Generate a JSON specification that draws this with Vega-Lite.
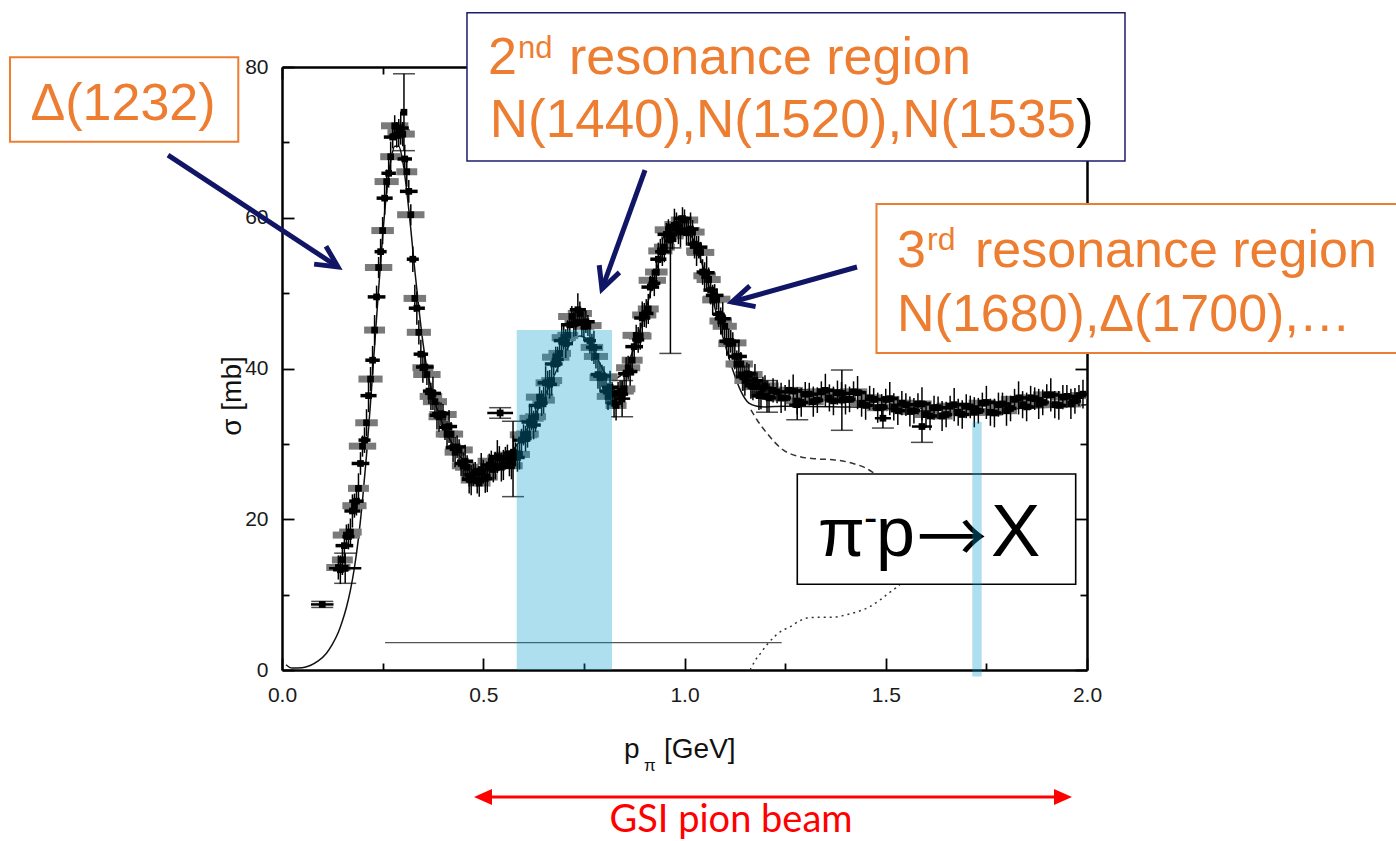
{
"$schema": "https://vega.github.io/schema/vega-lite/v6.json",
"width": 805, "height": 603,
"autosize": {"type": "none"},
"padding": {"left": 282, "top": 67, "right": 309, "bottom": 171},
"background": "white",
"config": {
 "view": {"stroke": null},
 "axis": {"domainColor": "#000", "domainWidth": 2.5, "tickColor": "#000", "tickWidth": 1.8, "labelFont": "Liberation Sans", "labelFontSize": 21, "labelColor": "#1a1a1a", "grid": false, "labelFlush": false, "labelOverlap": false}
},
"resolve": {"axis": {"x": "independent", "y": "independent"}},
"datasets": {
 "one": [{}],
 "setA": [
  {"x":0.14,"y":13.6,"e":0.030,"v":1.6},{"x":0.15,"y":14.6,"e":0.026,"v":2.0},{"x":0.16,"y":17.9,"e":0.034,"v":1.4},{"x":0.17,"y":18.3,"e":0.028,"v":1.8},
  {"x":0.18,"y":21.8,"e":0.030,"v":1.6},{"x":0.19,"y":24.1,"e":0.026,"v":2.0},{"x":0.20,"y":29.7,"e":0.034,"v":1.4},{"x":0.21,"y":32.8,"e":0.028,"v":1.8},
  {"x":0.22,"y":38.6,"e":0.030,"v":1.6},{"x":0.23,"y":45.1,"e":0.026,"v":2.0},{"x":0.24,"y":53.4,"e":0.034,"v":1.4},{"x":0.25,"y":58.3,"e":0.028,"v":1.8},
  {"x":0.26,"y":64.8,"e":0.030,"v":1.6},{"x":0.27,"y":68.1,"e":0.026,"v":2.0},{"x":0.28,"y":72.2,"e":0.034,"v":1.4},{"x":0.29,"y":71.3,"e":0.028,"v":1.8},
  {"x":0.30,"y":71.1,"e":0.030,"v":1.6},{"x":0.31,"y":66.1,"e":0.026,"v":2.0},{"x":0.32,"y":60.4,"e":0.034,"v":1.4},{"x":0.33,"y":49.3,"e":0.028,"v":1.8},
  {"x":0.34,"y":44.8,"e":0.030,"v":1.6},{"x":0.35,"y":40.1,"e":0.026,"v":2.0},{"x":0.36,"y":39.2,"e":0.034,"v":1.4},{"x":0.37,"y":36.3,"e":0.028,"v":1.8},
  {"x":0.38,"y":35.6,"e":0.030,"v":1.6},{"x":0.39,"y":33.6,"e":0.026,"v":2.0},{"x":0.40,"y":33.9,"e":0.034,"v":1.4},{"x":0.41,"y":31.3,"e":0.028,"v":1.8},
  {"x":0.42,"y":31.3,"e":0.030,"v":1.6},{"x":0.43,"y":28.9,"e":0.026,"v":2.0},{"x":0.44,"y":29.2,"e":0.034,"v":1.4},{"x":0.45,"y":27.1,"e":0.028,"v":1.8},
  {"x":0.46,"y":26.9,"e":0.030,"v":1.6},{"x":0.47,"y":25.2,"e":0.026,"v":2.0},{"x":0.48,"y":26.2,"e":0.034,"v":1.4},{"x":0.49,"y":24.8,"e":0.028,"v":1.8},
  {"x":0.50,"y":26.3,"e":0.030,"v":1.6},{"x":0.51,"y":25.6,"e":0.026,"v":2.0},{"x":0.52,"y":27.7,"e":0.034,"v":1.4},{"x":0.53,"y":27.1,"e":0.028,"v":1.8},
  {"x":0.54,"y":28.1,"e":0.030,"v":1.6},{"x":0.55,"y":27.2,"e":0.026,"v":2.0},{"x":0.56,"y":28.5,"e":0.034,"v":1.4},{"x":0.57,"y":27.1,"e":0.028,"v":1.8},
  {"x":0.58,"y":28.6,"e":0.030,"v":1.6},{"x":0.59,"y":28.6,"e":0.026,"v":2.0},{"x":0.60,"y":31.2,"e":0.034,"v":1.4},{"x":0.61,"y":31.3,"e":0.028,"v":1.8},
  {"x":0.62,"y":33.4,"e":0.030,"v":1.6},{"x":0.63,"y":33.6,"e":0.026,"v":2.0},{"x":0.64,"y":36.2,"e":0.034,"v":1.4},{"x":0.65,"y":35.8,"e":0.028,"v":1.8},
  {"x":0.66,"y":38.1,"e":0.030,"v":1.6},{"x":0.67,"y":38.4,"e":0.026,"v":2.0},{"x":0.68,"y":41.5,"e":0.034,"v":1.4},{"x":0.69,"y":42.0,"e":0.028,"v":1.8},
  {"x":0.70,"y":44.1,"e":0.030,"v":1.6},{"x":0.71,"y":44.4,"e":0.026,"v":2.0},{"x":0.72,"y":46.9,"e":0.034,"v":1.4},{"x":0.73,"y":46.1,"e":0.028,"v":1.8},
  {"x":0.74,"y":47.3,"e":0.030,"v":1.6},{"x":0.75,"y":45.6,"e":0.026,"v":2.0},{"x":0.76,"y":45.7,"e":0.034,"v":1.4},{"x":0.77,"y":42.8,"e":0.028,"v":1.8},
  {"x":0.78,"y":41.6,"e":0.030,"v":1.6},{"x":0.79,"y":38.8,"e":0.026,"v":2.0},{"x":0.80,"y":38.9,"e":0.034,"v":1.4},{"x":0.81,"y":36.3,"e":0.028,"v":1.8},
  {"x":0.82,"y":36.6,"e":0.030,"v":1.6},{"x":0.83,"y":35.1,"e":0.026,"v":2.0},{"x":0.84,"y":37.0,"e":0.034,"v":1.4},{"x":0.85,"y":37.3,"e":0.028,"v":1.8},
  {"x":0.86,"y":40.1,"e":0.030,"v":1.6},{"x":0.87,"y":41.1,"e":0.026,"v":2.0},{"x":0.88,"y":44.4,"e":0.034,"v":1.4},{"x":0.89,"y":44.3,"e":0.028,"v":1.8},
  {"x":0.90,"y":47.1,"e":0.030,"v":1.6},{"x":0.91,"y":47.9,"e":0.026,"v":2.0},{"x":0.92,"y":51.7,"e":0.034,"v":1.4},{"x":0.93,"y":52.8,"e":0.028,"v":1.8},
  {"x":0.94,"y":55.6,"e":0.030,"v":1.6},{"x":0.95,"y":56.1,"e":0.026,"v":2.0},{"x":0.96,"y":58.4,"e":0.034,"v":1.4},{"x":0.97,"y":57.6,"e":0.028,"v":1.8},
  {"x":0.98,"y":59.1,"e":0.030,"v":1.6},{"x":0.99,"y":58.1,"e":0.026,"v":2.0},{"x":1.00,"y":59.7,"e":0.034,"v":1.4},{"x":1.01,"y":58.3,"e":0.028,"v":1.8},
  {"x":1.02,"y":58.1,"e":0.030,"v":1.6},{"x":1.03,"y":55.6,"e":0.026,"v":2.0},{"x":1.04,"y":55.4,"e":0.034,"v":1.4},{"x":1.05,"y":52.3,"e":0.028,"v":1.8},
  {"x":1.06,"y":51.8,"e":0.030,"v":1.6},{"x":1.07,"y":49.1,"e":0.026,"v":2.0},{"x":1.08,"y":49.2,"e":0.034,"v":1.4},{"x":1.09,"y":46.3,"e":0.028,"v":1.8},
  {"x":1.10,"y":45.6,"e":0.030,"v":1.6},{"x":1.11,"y":43.3,"e":0.026,"v":2.0},{"x":1.12,"y":43.4,"e":0.034,"v":1.4},{"x":1.13,"y":40.6,"e":0.028,"v":1.8},
  {"x":1.14,"y":40.6,"e":0.030,"v":1.6},{"x":1.15,"y":38.4,"e":0.026,"v":2.0},{"x":1.16,"y":39.2,"e":0.034,"v":1.4},{"x":1.17,"y":37.6,"e":0.028,"v":1.8},
  {"x":1.18,"y":37.9,"e":0.030,"v":1.6},{"x":1.19,"y":36.6,"e":0.026,"v":2.0},{"x":1.20,"y":37.7,"e":0.034,"v":1.4},
  {"x":1.22,"y":37.1,"e":0.030,"v":1.6},{"x":1.24,"y":36.1,"e":0.026,"v":2.0},{"x":1.26,"y":37.1,"e":0.034,"v":1.4},{"x":1.28,"y":35.7,"e":0.028,"v":1.8},
  {"x":1.30,"y":36.6,"e":0.030,"v":1.6},{"x":1.32,"y":35.6,"e":0.026,"v":2.0},{"x":1.34,"y":36.9,"e":0.034,"v":1.4},{"x":1.36,"y":36.1,"e":0.028,"v":1.8},
  {"x":1.38,"y":36.8,"e":0.030,"v":1.6},{"x":1.40,"y":35.9,"e":0.026,"v":2.0},{"x":1.42,"y":36.9,"e":0.034,"v":1.4},{"x":1.44,"y":35.4,"e":0.028,"v":1.8},
  {"x":1.46,"y":36.1,"e":0.030,"v":1.6},{"x":1.48,"y":34.8,"e":0.026,"v":2.0},{"x":1.50,"y":35.9,"e":0.034,"v":1.4},{"x":1.52,"y":34.9,"e":0.028,"v":1.8},
  {"x":1.54,"y":35.4,"e":0.030,"v":1.6},{"x":1.56,"y":34.3,"e":0.026,"v":2.0},{"x":1.58,"y":35.3,"e":0.034,"v":1.4},{"x":1.60,"y":33.9,"e":0.028,"v":1.8},
  {"x":1.62,"y":34.8,"e":0.030,"v":1.6},{"x":1.64,"y":33.7,"e":0.026,"v":2.0},{"x":1.66,"y":35.0,"e":0.034,"v":1.4},{"x":1.68,"y":34.2,"e":0.028,"v":1.8},
  {"x":1.70,"y":35.0,"e":0.030,"v":1.6},{"x":1.72,"y":34.2,"e":0.026,"v":2.0},{"x":1.74,"y":35.4,"e":0.034,"v":1.4},{"x":1.76,"y":34.2,"e":0.028,"v":1.8},
  {"x":1.78,"y":35.2,"e":0.030,"v":1.6},{"x":1.80,"y":34.4,"e":0.026,"v":2.0},{"x":1.82,"y":35.9,"e":0.034,"v":1.4},{"x":1.84,"y":35.2,"e":0.028,"v":1.8},
  {"x":1.86,"y":36.1,"e":0.030,"v":1.6},{"x":1.88,"y":35.3,"e":0.026,"v":2.0},{"x":1.90,"y":36.5,"e":0.034,"v":1.4},{"x":1.92,"y":35.2,"e":0.028,"v":1.8},
  {"x":1.94,"y":36.2,"e":0.030,"v":1.6},{"x":1.96,"y":35.3,"e":0.026,"v":2.0},{"x":1.98,"y":36.4,"e":0.020,"v":1.4}
 ],
 "setB": [
  {"x":0.145,"y":13.3,"e":0.018,"v":1.9},{"x":0.155,"y":16.5,"e":0.022,"v":1.5},{"x":0.165,"y":17.7,"e":0.015,"v":1.7},{"x":0.175,"y":21.1,"e":0.020,"v":2.2},
  {"x":0.185,"y":22.4,"e":0.018,"v":1.9},{"x":0.195,"y":27.4,"e":0.022,"v":1.5},{"x":0.205,"y":30.5,"e":0.015,"v":1.7},{"x":0.215,"y":36.4,"e":0.020,"v":2.2},
  {"x":0.225,"y":41.1,"e":0.018,"v":1.9},{"x":0.235,"y":49.5,"e":0.022,"v":1.5},{"x":0.245,"y":55.5,"e":0.015,"v":1.7},{"x":0.255,"y":62.6,"e":0.020,"v":2.2},
  {"x":0.265,"y":65.9,"e":0.018,"v":1.9},{"x":0.275,"y":70.7,"e":0.022,"v":1.5},{"x":0.285,"y":71.0,"e":0.015,"v":1.7},{"x":0.295,"y":71.9,"e":0.020,"v":2.2},
  {"x":0.305,"y":67.8,"e":0.018,"v":1.9},{"x":0.315,"y":63.5,"e":0.022,"v":1.5},{"x":0.325,"y":54.5,"e":0.015,"v":1.7},{"x":0.335,"y":48.0,"e":0.020,"v":2.2},
  {"x":0.345,"y":41.9,"e":0.018,"v":1.9},{"x":0.355,"y":40.2,"e":0.022,"v":1.5},{"x":0.365,"y":37.0,"e":0.015,"v":1.7},{"x":0.375,"y":36.7,"e":0.020,"v":2.2},
  {"x":0.385,"y":33.8,"e":0.018,"v":1.9},{"x":0.395,"y":34.0,"e":0.022,"v":1.5},{"x":0.405,"y":32.2,"e":0.015,"v":1.7},{"x":0.415,"y":32.3,"e":0.020,"v":2.2},
  {"x":0.425,"y":29.5,"e":0.018,"v":1.9},{"x":0.435,"y":29.6,"e":0.022,"v":1.5},{"x":0.445,"y":27.4,"e":0.015,"v":1.7},{"x":0.455,"y":27.7,"e":0.020,"v":2.2},
  {"x":0.465,"y":25.3,"e":0.018,"v":1.9},{"x":0.475,"y":25.9,"e":0.022,"v":1.5},{"x":0.485,"y":25.1,"e":0.015,"v":1.7},{"x":0.495,"y":26.6,"e":0.020,"v":2.2},
  {"x":0.505,"y":25.4,"e":0.018,"v":1.9},{"x":0.515,"y":27.2,"e":0.022,"v":1.5},{"x":0.525,"y":26.6,"e":0.015,"v":1.7},{"x":0.535,"y":28.3,"e":0.020,"v":2.2},
  {"x":0.545,"y":26.9,"e":0.018,"v":1.9},{"x":0.555,"y":28.1,"e":0.022,"v":1.5},{"x":0.565,"y":27.4,"e":0.015,"v":1.7},{"x":0.575,"y":28.9,"e":0.020,"v":2.2},
  {"x":0.585,"y":28.2,"e":0.018,"v":1.9},{"x":0.595,"y":30.5,"e":0.022,"v":1.5},{"x":0.605,"y":30.7,"e":0.015,"v":1.7},{"x":0.615,"y":32.9,"e":0.020,"v":2.2},
  {"x":0.625,"y":32.5,"e":0.018,"v":1.9},{"x":0.635,"y":35.1,"e":0.022,"v":1.5},{"x":0.645,"y":35.4,"e":0.015,"v":1.7},{"x":0.655,"y":38.1,"e":0.020,"v":2.2},
  {"x":0.665,"y":37.9,"e":0.018,"v":1.9},{"x":0.675,"y":40.6,"e":0.022,"v":1.5},{"x":0.685,"y":41.2,"e":0.015,"v":1.7},{"x":0.695,"y":43.7,"e":0.020,"v":2.2},
  {"x":0.705,"y":43.3,"e":0.018,"v":1.9},{"x":0.715,"y":45.8,"e":0.022,"v":1.5},{"x":0.725,"y":45.9,"e":0.015,"v":1.7},{"x":0.735,"y":47.8,"e":0.020,"v":2.2},
  {"x":0.745,"y":46.1,"e":0.018,"v":1.9},{"x":0.755,"y":46.2,"e":0.022,"v":1.5},{"x":0.765,"y":43.7,"e":0.015,"v":1.7},{"x":0.775,"y":42.8,"e":0.020,"v":2.2},
  {"x":0.785,"y":39.2,"e":0.018,"v":1.9},{"x":0.795,"y":39.0,"e":0.022,"v":1.5},{"x":0.805,"y":37.0,"e":0.015,"v":1.7},{"x":0.815,"y":37.5,"e":0.020,"v":2.2},
  {"x":0.825,"y":35.4,"e":0.018,"v":1.9},{"x":0.835,"y":36.7,"e":0.022,"v":1.5},{"x":0.845,"y":36.6,"e":0.015,"v":1.7},{"x":0.855,"y":39.3,"e":0.020,"v":2.2},
  {"x":0.865,"y":39.6,"e":0.018,"v":1.9},{"x":0.875,"y":42.9,"e":0.022,"v":1.5},{"x":0.885,"y":43.8,"e":0.015,"v":1.7},{"x":0.895,"y":46.7,"e":0.020,"v":2.2},
  {"x":0.905,"y":47.3,"e":0.018,"v":1.9},{"x":0.915,"y":50.8,"e":0.022,"v":1.5},{"x":0.925,"y":51.3,"e":0.015,"v":1.7},{"x":0.935,"y":54.5,"e":0.020,"v":2.2},
  {"x":0.945,"y":55.5,"e":0.018,"v":1.9},{"x":0.955,"y":57.8,"e":0.022,"v":1.5},{"x":0.965,"y":57.0,"e":0.015,"v":1.7},{"x":0.975,"y":59.0,"e":0.020,"v":2.2},
  {"x":0.985,"y":58.4,"e":0.018,"v":1.9},{"x":0.995,"y":59.9,"e":0.022,"v":1.5},{"x":1.005,"y":58.0,"e":0.015,"v":1.7},{"x":1.015,"y":58.5,"e":0.020,"v":2.2},
  {"x":1.025,"y":56.5,"e":0.018,"v":1.9},{"x":1.035,"y":56.1,"e":0.022,"v":1.5},{"x":1.045,"y":52.8,"e":0.015,"v":1.7},{"x":1.055,"y":52.7,"e":0.020,"v":2.2},
  {"x":1.065,"y":50.4,"e":0.018,"v":1.9},{"x":1.075,"y":49.7,"e":0.022,"v":1.5},{"x":1.085,"y":47.2,"e":0.015,"v":1.7},{"x":1.095,"y":46.6,"e":0.020,"v":2.2},
  {"x":1.105,"y":43.6,"e":0.018,"v":1.9},{"x":1.115,"y":43.6,"e":0.022,"v":1.5},{"x":1.125,"y":41.6,"e":0.015,"v":1.7},{"x":1.135,"y":41.6,"e":0.020,"v":2.2},
  {"x":1.145,"y":38.9,"e":0.018,"v":1.9},{"x":1.155,"y":39.3,"e":0.022,"v":1.5},{"x":1.165,"y":37.7,"e":0.015,"v":1.7},{"x":1.175,"y":38.4,"e":0.020,"v":2.2},
  {"x":1.185,"y":36.4,"e":0.018,"v":1.9},{"x":1.195,"y":37.4,"e":0.022,"v":1.5},
  {"x":1.21,"y":36.1,"e":0.018,"v":1.9},{"x":1.23,"y":36.9,"e":0.022,"v":1.5},{"x":1.25,"y":36.1,"e":0.015,"v":1.7},{"x":1.27,"y":37.0,"e":0.020,"v":2.2},
  {"x":1.29,"y":35.5,"e":0.018,"v":1.9},{"x":1.31,"y":36.6,"e":0.022,"v":1.5},{"x":1.33,"y":35.8,"e":0.015,"v":1.7},{"x":1.35,"y":37.1,"e":0.020,"v":2.2},
  {"x":1.37,"y":35.7,"e":0.018,"v":1.9},{"x":1.39,"y":36.7,"e":0.022,"v":1.5},{"x":1.41,"y":35.9,"e":0.015,"v":1.7},{"x":1.43,"y":36.8,"e":0.020,"v":2.2},
  {"x":1.45,"y":35.1,"e":0.018,"v":1.9},{"x":1.47,"y":35.9,"e":0.022,"v":1.5},{"x":1.49,"y":34.9,"e":0.015,"v":1.7},{"x":1.51,"y":36.0,"e":0.020,"v":2.2},
  {"x":1.53,"y":34.4,"e":0.018,"v":1.9},{"x":1.55,"y":35.2,"e":0.022,"v":1.5},{"x":1.57,"y":34.4,"e":0.015,"v":1.7},{"x":1.59,"y":35.3,"e":0.020,"v":2.2},
  {"x":1.61,"y":33.7,"e":0.018,"v":1.9},{"x":1.63,"y":34.8,"e":0.022,"v":1.5},{"x":1.65,"y":33.9,"e":0.015,"v":1.7},{"x":1.67,"y":35.2,"e":0.020,"v":2.2},
  {"x":1.69,"y":33.9,"e":0.018,"v":1.9},{"x":1.71,"y":34.9,"e":0.022,"v":1.5},{"x":1.73,"y":34.4,"e":0.015,"v":1.7},{"x":1.75,"y":35.5,"e":0.020,"v":2.2},
  {"x":1.77,"y":34.1,"e":0.018,"v":1.9},{"x":1.79,"y":35.3,"e":0.022,"v":1.5},{"x":1.81,"y":34.7,"e":0.015,"v":1.7},{"x":1.83,"y":36.1,"e":0.020,"v":2.2},
  {"x":1.85,"y":34.9,"e":0.018,"v":1.9},{"x":1.87,"y":36.0,"e":0.022,"v":1.5},{"x":1.89,"y":35.5,"e":0.015,"v":1.7},{"x":1.91,"y":36.5,"e":0.020,"v":2.2},
  {"x":1.93,"y":35.1,"e":0.018,"v":1.9},{"x":1.95,"y":36.3,"e":0.022,"v":1.5},{"x":1.97,"y":35.7,"e":0.015,"v":1.7},{"x":1.99,"y":36.6,"e":0.010,"v":1.9}
 ],
 "setC": [
  {"x":0.100,"y":8.7,"e":0.028,"v":0.4},{"x":0.157,"y":13.5,"e":0.040,"v":2.0},{"x":0.303,"y":74.0,"e":0.0,"v":5.1},
  {"x":0.542,"y":34.1,"e":0.032,"v":0.7},{"x":0.574,"y":28.0,"e":0.0,"v":5.0},{"x":0.845,"y":36.0,"e":0.020,"v":2.4},
  {"x":0.965,"y":49.0,"e":0.0,"v":7.0},{"x":1.205,"y":36.3,"e":0.020,"v":2.1},{"x":1.280,"y":35.2,"e":0.020,"v":2.0},
  {"x":1.391,"y":35.8,"e":0.030,"v":4.0},{"x":1.493,"y":33.4,"e":0.020,"v":1.3},{"x":1.590,"y":32.3,"e":0.025,"v":2.1}
 ],
 "solid": [
  {"x":0.01,"y":0.7},{"x":0.025,"y":0.25},{"x":0.05,"y":0.3},{"x":0.07,"y":0.6},{"x":0.09,"y":1.2},{"x":0.11,"y":2.2},{"x":0.125,"y":3.4},
  {"x":0.14,"y":5.0},{"x":0.15,"y":6.5},{"x":0.16,"y":8.3},{"x":0.17,"y":10.6},{"x":0.18,"y":13.6},{"x":0.19,"y":17.5},{"x":0.20,"y":22.5},
  {"x":0.21,"y":28.5},{"x":0.22,"y":35.5},{"x":0.23,"y":43.0},{"x":0.24,"y":50.5},{"x":0.25,"y":57.5},{"x":0.26,"y":63.5},{"x":0.27,"y":67.5},
  {"x":0.28,"y":69.5},{"x":0.29,"y":69.5},{"x":0.30,"y":67.5},{"x":0.31,"y":63.5},{"x":0.32,"y":58.5},{"x":0.33,"y":53.0},{"x":0.34,"y":48.0},
  {"x":0.35,"y":43.5},{"x":0.36,"y":40.0},{"x":0.38,"y":35.5},{"x":0.40,"y":32.5},{"x":0.42,"y":30.3},{"x":0.44,"y":28.5},{"x":0.46,"y":27.2},
  {"x":0.48,"y":26.5},{"x":0.50,"y":26.3},{"x":0.52,"y":26.6},{"x":0.54,"y":27.3},{"x":0.56,"y":28.3},{"x":0.58,"y":29.6},{"x":0.60,"y":31.2},
  {"x":0.62,"y":33.0},{"x":0.64,"y":35.0},{"x":0.66,"y":37.2},{"x":0.68,"y":39.5},{"x":0.70,"y":41.8},{"x":0.72,"y":43.5},{"x":0.74,"y":44.3},
  {"x":0.76,"y":43.8},{"x":0.78,"y":41.8},{"x":0.80,"y":39.6},{"x":0.82,"y":38.6},{"x":0.84,"y":39.0},{"x":0.86,"y":40.8},{"x":0.88,"y":43.5},
  {"x":0.90,"y":47.0},{"x":0.92,"y":51.0},{"x":0.94,"y":54.8},{"x":0.96,"y":57.8},{"x":0.98,"y":59.2},{"x":1.00,"y":59.0},{"x":1.02,"y":57.3},
  {"x":1.04,"y":54.5},{"x":1.06,"y":51.0},{"x":1.08,"y":47.2},{"x":1.10,"y":43.3},{"x":1.12,"y":39.8},{"x":1.14,"y":37.0},{"x":1.16,"y":35.4},
  {"x":1.18,"y":35.0},{"x":1.20,"y":34.9},{"x":1.25,"y":35.0},{"x":1.50,"y":34.8},{"x":1.75,"y":34.6},{"x":2.00,"y":35.2}
 ],
 "dashed": [
  {"x":1.165,"y":34.5},{"x":1.18,"y":33.2},{"x":1.205,"y":31.4},{"x":1.245,"y":29.2},{"x":1.287,"y":28.3},{"x":1.33,"y":28.0},
  {"x":1.369,"y":27.9},{"x":1.419,"y":27.4},{"x":1.45,"y":26.8},{"x":1.466,"y":26.3},{"x":1.50,"y":25.0},{"x":1.55,"y":23.0}
 ],
 "dotted": [
  {"x":1.163,"y":0.0},{"x":1.175,"y":1.2},{"x":1.19,"y":2.3},{"x":1.204,"y":3.3},{"x":1.225,"y":4.5},{"x":1.245,"y":5.3},{"x":1.262,"y":5.7},
  {"x":1.285,"y":6.5},{"x":1.304,"y":6.9},{"x":1.34,"y":7.0},{"x":1.369,"y":7.0},{"x":1.40,"y":7.3},{"x":1.428,"y":7.7},{"x":1.46,"y":8.4},
  {"x":1.486,"y":9.3},{"x":1.51,"y":10.3},{"x":1.528,"y":11.0},{"x":1.55,"y":12.2}
 ]
},
"layer": [
 {
  "data": {"values": [{"x": 0.256, "x2": 1.2415, "y": 3.62}]},
  "mark": {"type": "rule", "color": "#555", "strokeWidth": 1.2},
  "encoding": {
   "x": {"field": "x", "type": "quantitative", "scale": {"domain": [0, 2], "nice": false, "zero": false},
         "axis": {"orient": "bottom", "values": [0, 0.5, 1, 1.5, 2], "format": ".1f", "tickSize": -12, "labelPadding": 26, "title": null}},
   "x2": {"field": "x2"},
   "y": {"field": "y", "type": "quantitative", "scale": {"domain": [0, 80], "nice": false, "zero": false},
         "axis": {"orient": "left", "values": [0, 20, 40, 60, 80], "tickSize": -12, "labelPadding": 26, "title": null}}
  }
 },
 {
  "data": {"name": "solid"},
  "mark": {"type": "line", "color": "#111", "strokeWidth": 1.5, "interpolate": "monotone"},
  "encoding": {
   "x": {"field": "x", "type": "quantitative", "axis": {"orient": "top", "values": [0, 0.5, 1, 1.5, 2], "labels": false, "tickSize": -12, "title": null}},
   "y": {"field": "y", "type": "quantitative", "axis": {"orient": "right", "values": [0, 20, 40, 60, 80], "labels": false, "tickSize": -12, "title": null}}
  }
 },
 {
  "data": {"name": "dashed"},
  "mark": {"type": "line", "color": "#333", "strokeWidth": 1.5, "strokeDash": [6, 4], "interpolate": "monotone"},
  "encoding": {
   "x": {"field": "x", "type": "quantitative", "axis": {"orient": "bottom", "values": [0.25, 0.75, 1.25, 1.75], "labels": false, "domain": false, "tickSize": -7, "title": null}},
   "y": {"field": "y", "type": "quantitative", "axis": {"orient": "left", "values": [10, 30, 50, 70], "labels": false, "domain": false, "tickSize": -7, "title": null}}
  }
 },
 {
  "data": {"name": "dotted"},
  "mark": {"type": "line", "color": "#333", "strokeWidth": 1.5, "strokeDash": [2, 4], "interpolate": "monotone"},
  "encoding": {
   "x": {"field": "x", "type": "quantitative", "axis": {"orient": "top", "values": [0.25, 0.75, 1.25, 1.75], "labels": false, "domain": false, "tickSize": -7, "title": null}},
   "y": {"field": "y", "type": "quantitative", "axis": {"orient": "right", "values": [10, 30, 50, 70], "labels": false, "domain": false, "tickSize": -7, "title": null}}
  }
 },
 {
  "data": {"name": "setA"},
  "mark": {"type": "errorbar", "color": "#7a7a7a", "thickness": 7},
  "encoding": {"x": {"field": "x", "type": "quantitative", "axis": null}, "xError": {"field": "e"}, "y": {"field": "y", "type": "quantitative", "axis": null}}
 },
 {
  "data": {"name": "setB"},
  "mark": {"type": "errorbar", "color": "#000", "thickness": 3.5},
  "encoding": {"x": {"field": "x", "type": "quantitative", "axis": null}, "xError": {"field": "e"}, "y": {"field": "y", "type": "quantitative", "axis": null}}
 },
 {
  "data": {"name": "setA"},
  "mark": {"type": "errorbar", "color": "#000", "thickness": 1.5},
  "encoding": {"x": {"field": "x", "type": "quantitative", "axis": null}, "y": {"field": "y", "type": "quantitative", "axis": null}, "yError": {"field": "v"}}
 },
 {
  "data": {"name": "setB"},
  "mark": {"type": "errorbar", "color": "#000", "thickness": 1.5},
  "encoding": {"x": {"field": "x", "type": "quantitative", "axis": null}, "y": {"field": "y", "type": "quantitative", "axis": null}, "yError": {"field": "v"}}
 },
 {
  "data": {"name": "setC"},
  "mark": {"type": "errorbar", "color": "#000", "thickness": 2.5},
  "encoding": {"x": {"field": "x", "type": "quantitative", "axis": null}, "xError": {"field": "e"}, "y": {"field": "y", "type": "quantitative", "axis": null}}
 },
 {
  "data": {"name": "setC"},
  "mark": {"type": "errorbar", "color": "#000", "thickness": 1.5, "ticks": {"size": 22, "thickness": 1.5}},
  "encoding": {"x": {"field": "x", "type": "quantitative", "axis": null}, "y": {"field": "y", "type": "quantitative", "axis": null}, "yError": {"field": "v"}}
 },
 {
  "data": {"name": "setA"},
  "mark": {"type": "point", "shape": "square", "filled": true, "color": "#000", "size": 45, "opacity": 1},
  "encoding": {"x": {"field": "x", "type": "quantitative", "axis": null}, "y": {"field": "y", "type": "quantitative", "axis": null}}
 },
 {
  "data": {"name": "setB"},
  "mark": {"type": "point", "shape": "square", "filled": true, "color": "#000", "size": 45, "opacity": 1},
  "encoding": {"x": {"field": "x", "type": "quantitative", "axis": null}, "y": {"field": "y", "type": "quantitative", "axis": null}}
 },
 {
  "data": {"name": "setC"},
  "transform": [{"filter": "datum.v < 6.5"}],
  "mark": {"type": "point", "shape": "square", "filled": true, "color": "#000", "size": 45, "opacity": 1},
  "encoding": {"x": {"field": "x", "type": "quantitative", "axis": null}, "y": {"field": "y", "type": "quantitative", "axis": null}}
 },
 {
  "data": {"name": "one"},
  "mark": {"type": "rect", "color": "#009CCC", "opacity": 0.32},
  "encoding": {"x": {"datum": 0.5831, "axis": null}, "x2": {"datum": 0.8199}, "y": {"datum": 0, "axis": null}, "y2": {"datum": 45.1}}
 },
 {
  "data": {"name": "one"},
  "mark": {"type": "rect", "fill": "white", "stroke": "#ED7D31", "strokeWidth": 2},
  "encoding": {"x": {"datum": -0.6758, "axis": null}, "x2": {"datum": -0.1086}, "y": {"datum": 81.29, "axis": null}, "y2": {"datum": 70.09}}
 },
 {
  "data": {"name": "one"},
  "mark": {"type": "rect", "fill": "white", "stroke": "#1c1c6c", "strokeWidth": 1.5},
  "encoding": {"x": {"datum": 0.4596, "axis": null}, "x2": {"datum": 2.0944}, "y": {"datum": 87.2, "axis": null}, "y2": {"datum": 67.53}}
 },
 {
  "data": {"name": "one"},
  "mark": {"type": "rect", "fill": "white", "stroke": "#ED7D31", "strokeWidth": 2},
  "encoding": {"x": {"datum": 1.477, "axis": null}, "x2": {"datum": 2.8025}, "y": {"datum": 61.82, "axis": null}, "y2": {"datum": 42.06}}
 },
 {
  "data": {"name": "one"},
  "mark": {"type": "rect", "fill": "white", "stroke": "#000", "strokeWidth": 1.6},
  "encoding": {"x": {"datum": 1.2802, "axis": null}, "x2": {"datum": 1.9719}, "y": {"datum": 26.0, "axis": null}, "y2": {"datum": 11.37}}
 },
 {
  "data": {"name": "one"},
  "mark": {"type": "text", "text": "Δ(1232)", "align": "center", "baseline": "alphabetic", "font": "Liberation Sans", "fontSize": 52, "color": "#ED7D31"},
  "encoding": {"x": {"datum": -0.395, "axis": null}, "y": {"datum": 72.97, "axis": null}}
 },
 {
  "data": {"name": "one"},
  "mark": {"type": "text", "text": "2", "align": "left", "baseline": "alphabetic", "font": "Liberation Sans", "fontSize": 52, "color": "#ED7D31"},
  "encoding": {"x": {"datum": 0.5118, "axis": null}, "y": {"datum": 79.07, "axis": null}}
 },
 {
  "data": {"name": "one"},
  "mark": {"type": "text", "text": "nd", "align": "left", "baseline": "alphabetic", "font": "Liberation Sans", "fontSize": 31, "color": "#ED7D31"},
  "encoding": {"x": {"datum": 0.5863, "axis": null}, "y": {"datum": 81.26, "axis": null}}
 },
 {
  "data": {"name": "one"},
  "mark": {"type": "text", "text": "resonance region", "align": "left", "baseline": "alphabetic", "font": "Liberation Sans", "fontSize": 52, "color": "#ED7D31"},
  "encoding": {"x": {"datum": 0.713, "axis": null}, "y": {"datum": 79.07, "axis": null}}
 },
 {
  "data": {"name": "one"},
  "mark": {"type": "text", "text": "N(1440),N(1520),N(1535", "align": "right", "baseline": "alphabetic", "font": "Liberation Sans", "fontSize": 53, "color": "#ED7D31"},
  "encoding": {"x": {"datum": 1.9727, "axis": null}, "y": {"datum": 70.71, "axis": null}}
 },
 {
  "data": {"name": "one"},
  "mark": {"type": "text", "text": ")", "align": "left", "baseline": "alphabetic", "font": "Liberation Sans", "fontSize": 53, "color": "#000"},
  "encoding": {"x": {"datum": 1.9727, "axis": null}, "y": {"datum": 70.71, "axis": null}}
 },
 {
  "data": {"name": "one"},
  "mark": {"type": "text", "text": "3", "align": "left", "baseline": "alphabetic", "font": "Liberation Sans", "fontSize": 52, "color": "#ED7D31"},
  "encoding": {"x": {"datum": 1.528, "axis": null}, "y": {"datum": 53.47, "axis": null}}
 },
 {
  "data": {"name": "one"},
  "mark": {"type": "text", "text": "rd", "align": "left", "baseline": "alphabetic", "font": "Liberation Sans", "fontSize": 32, "color": "#ED7D31"},
  "encoding": {"x": {"datum": 1.6025, "axis": null}, "y": {"datum": 55.66, "axis": null}}
 },
 {
  "data": {"name": "one"},
  "mark": {"type": "text", "text": "resonance region", "align": "left", "baseline": "alphabetic", "font": "Liberation Sans", "fontSize": 52, "color": "#ED7D31"},
  "encoding": {"x": {"datum": 1.7217, "axis": null}, "y": {"datum": 53.47, "axis": null}}
 },
 {
  "data": {"name": "one"},
  "mark": {"type": "text", "text": "N(1680),Δ(1700),…", "align": "left", "baseline": "alphabetic", "font": "Liberation Sans", "fontSize": 52, "color": "#ED7D31"},
  "encoding": {"x": {"datum": 1.528, "axis": null}, "y": {"datum": 44.98, "axis": null}}
 },
 {
  "data": {"name": "one"},
  "mark": {"type": "text", "text": "π", "align": "left", "baseline": "alphabetic", "font": "Liberation Sans", "fontSize": 68, "color": "#000"},
  "encoding": {"x": {"datum": 1.3317, "axis": null}, "y": {"datum": 15.12, "axis": null}}
 },
 {
  "data": {"name": "one"},
  "mark": {"type": "text", "text": "-", "align": "left", "baseline": "alphabetic", "font": "Liberation Sans", "fontSize": 40, "color": "#000"},
  "encoding": {"x": {"datum": 1.446, "axis": null}, "y": {"datum": 18.44, "axis": null}}
 },
 {
  "data": {"name": "one"},
  "mark": {"type": "text", "text": "p", "align": "left", "baseline": "alphabetic", "font": "Liberation Sans", "fontSize": 70, "color": "#000"},
  "encoding": {"x": {"datum": 1.4758, "axis": null}, "y": {"datum": 15.12, "axis": null}}
 },
 {
  "data": {"name": "one"},
  "mark": {"type": "text", "text": "→", "align": "left", "baseline": "alphabetic", "font": "Noto Sans CJK JP", "fontSize": 70, "color": "#000"},
  "encoding": {"x": {"datum": 1.5776, "axis": null}, "y": {"datum": 14.2, "axis": null}}
 },
 {
  "data": {"name": "one"},
  "mark": {"type": "text", "text": "X", "align": "left", "baseline": "alphabetic", "font": "Liberation Sans", "fontSize": 74, "color": "#000"},
  "encoding": {"x": {"datum": 1.7615, "axis": null}, "y": {"datum": 15.12, "axis": null}}
 },
 {
  "data": {"name": "one"},
  "mark": {"type": "rule", "color": "#111566", "strokeWidth": 5},
  "encoding": {"x": {"datum": -0.2832, "axis": null}, "y": {"datum": 68.32, "axis": null}, "x2": {"datum": 0.1391}, "y2": {"datum": 53.47}}
 },
 {
  "data": {"name": "one"},
  "mark": {"type": "rule", "color": "#111566", "strokeWidth": 5},
  "encoding": {"x": {"datum": 0.9019, "axis": null}, "y": {"datum": 66.33, "axis": null}, "x2": {"datum": 0.795}, "y2": {"datum": 50.55}}
 },
 {
  "data": {"name": "one"},
  "mark": {"type": "rule", "color": "#111566", "strokeWidth": 5},
  "encoding": {"x": {"datum": 1.4286, "axis": null}, "y": {"datum": 53.47, "axis": null}, "x2": {"datum": 1.118}, "y2": {"datum": 48.82}}
 },
 {
  "data": {"name": "one"},
  "mark": {"type": "point", "shape": "M -1 -0.5 L 0 0 L -1 0.5", "filled": false, "stroke": "#111566", "strokeWidth": 5, "size": 1850, "angle": 33.4, "opacity": 1},
  "encoding": {"x": {"datum": 0.1391, "axis": null}, "y": {"datum": 53.47, "axis": null}}
 },
 {
  "data": {"name": "one"},
  "mark": {"type": "point", "shape": "M -1 -0.5 L 0 0 L -1 0.5", "filled": false, "stroke": "#111566", "strokeWidth": 5, "size": 1850, "angle": 109.9, "opacity": 1},
  "encoding": {"x": {"datum": 0.795, "axis": null}, "y": {"datum": 50.55, "axis": null}}
 },
 {
  "data": {"name": "one"},
  "mark": {"type": "point", "shape": "M -1 -0.5 L 0 0 L -1 0.5", "filled": false, "stroke": "#111566", "strokeWidth": 5, "size": 1850, "angle": 164.4, "opacity": 1},
  "encoding": {"x": {"datum": 1.118, "axis": null}, "y": {"datum": 48.82, "axis": null}}
 },
 {
  "data": {"name": "one"},
  "mark": {"type": "rect", "color": "#009CCC", "opacity": 0.32},
  "encoding": {"x": {"datum": 1.715, "axis": null}, "x2": {"datum": 1.7384}, "y": {"datum": -0.86, "axis": null}, "y2": {"datum": 32.94}}
 },
 {
  "data": {"name": "one"},
  "mark": {"type": "rule", "color": "#ff0000", "strokeWidth": 3},
  "encoding": {"x": {"datum": 0.49, "axis": null}, "y": {"datum": -16.85, "axis": null}, "x2": {"datum": 1.95}, "y2": {"datum": -16.85}}
 },
 {
  "data": {"name": "one"},
  "mark": {"type": "point", "shape": "M 0 0 L 1 -0.45 L 1 0.45 Z", "filled": true, "color": "#ff0000", "size": 1296, "opacity": 1},
  "encoding": {"x": {"datum": 0.477, "axis": null}, "y": {"datum": -16.85, "axis": null}}
 },
 {
  "data": {"name": "one"},
  "mark": {"type": "point", "shape": "M 0 0 L -1 -0.45 L -1 0.45 Z", "filled": true, "color": "#ff0000", "size": 1296, "opacity": 1},
  "encoding": {"x": {"datum": 1.9627, "axis": null}, "y": {"datum": -16.85, "axis": null}}
 },
 {
  "data": {"name": "one"},
  "mark": {"type": "text", "text": "GSI pion beam", "align": "center", "baseline": "alphabetic", "font": "Lato", "fontSize": 38, "color": "#ff0000"},
  "encoding": {"x": {"datum": 1.1155, "axis": null}, "y": {"datum": -21.49, "axis": null}}
 },
 {
  "data": {"name": "one"},
  "mark": {"type": "text", "text": "σ [mb]", "align": "center", "baseline": "middle", "angle": 270, "font": "Liberation Sans", "fontSize": 28, "color": "#111"},
  "encoding": {"x": {"datum": -0.1217, "axis": null}, "y": {"datum": 36.35, "axis": null}}
 },
 {
  "data": {"name": "one"},
  "mark": {"type": "text", "text": "p", "align": "left", "baseline": "alphabetic", "font": "Liberation Sans", "fontSize": 28, "color": "#111"},
  "encoding": {"x": {"datum": 0.8497, "axis": null}, "y": {"datum": -11.675, "axis": null}}
 },
 {
  "data": {"name": "one"},
  "mark": {"type": "text", "text": "π", "align": "left", "baseline": "alphabetic", "font": "Liberation Sans", "fontSize": 17, "color": "#111"},
  "encoding": {"x": {"datum": 0.8994, "axis": null}, "y": {"datum": -13.4, "axis": null}}
 },
 {
  "data": {"name": "one"},
  "mark": {"type": "text", "text": "[GeV]", "align": "left", "baseline": "alphabetic", "font": "Liberation Sans", "fontSize": 28, "color": "#111"},
  "encoding": {"x": {"datum": 0.9491, "axis": null}, "y": {"datum": -11.675, "axis": null}}
 }
]
}
